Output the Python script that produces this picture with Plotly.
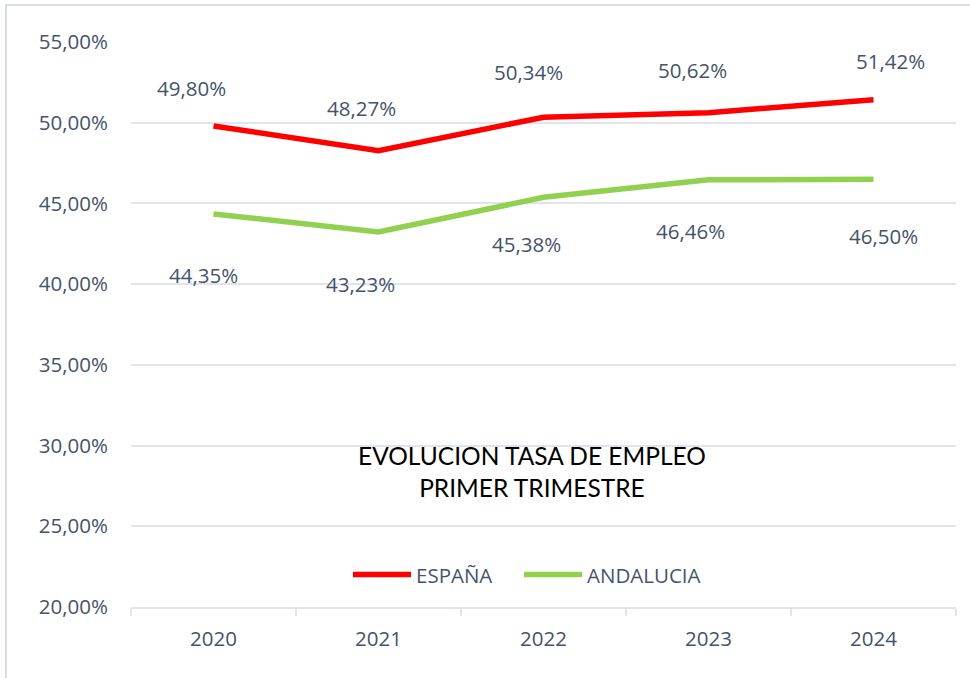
import plotly.graph_objects as go

years = ["2020", "2021", "2022", "2023", "2024"]
espana = [49.80, 48.27, 50.34, 50.62, 51.42]
andalucia = [44.35, 43.23, 45.38, 46.46, 46.50]
y_ticks = [20, 25, 30, 35, 40, 45, 50, 55]

# label offsets in pixels (layout only)
esp_dx = [-22, -17, -15, -16, 17]
esp_dy = [38, 43, 45, 43, 39]
and_dx = [-10, -18, -17, -18, 10]
and_dy = [-61, -52, -47, -51, -57]

RED = "#FF0000"
GREEN = "#92D050"
TXT = "#44546A"
GRID = "#E1E5EB"
FONT = "Open Sans"
FS = 20.5

def fmt(v):
    return f"{v:.2f}".replace(".", ",") + "%"

fig = go.Figure()
fig.add_trace(go.Scatter(x=years, y=espana, mode="lines", name="ESPAÑA",
                         line=dict(color=RED, width=5.5), legend="legend"))
fig.add_trace(go.Scatter(x=years, y=andalucia, mode="lines", name="ANDALUCIA",
                         line=dict(color=GREEN, width=5.5), legend="legend2"))

ann = []
for series, dxs, dys in ((espana, esp_dx, esp_dy), (andalucia, and_dx, and_dy)):
    for i, (v, dx, dy) in enumerate(zip(series, dxs, dys)):
        ann.append(dict(x=i, y=v, text=fmt(v), showarrow=False, xanchor="center",
                        yanchor="middle", xshift=dx, yshift=dy,
                        font=dict(family=FONT, size=FS, color=TXT)))
ann.append(dict(xref="paper", yref="paper", x=0.486, y=0.24,
                text="EVOLUCION TASA DE EMPLEO<br>PRIMER TRIMESTRE",
                showarrow=False, xanchor="center", yanchor="middle",
                font=dict(family="Lato", size=24.5, color="#000000")))

leg_common = dict(orientation="h", y=0.057, xanchor="left", yanchor="middle",
                  font=dict(family=FONT, size=FS, color=TXT), itemwidth=58,
                  bgcolor="rgba(0,0,0,0)")

fig.update_layout(
    width=970, height=678,
    margin=dict(l=131, r=14, t=42, b=71),
    paper_bgcolor="white", plot_bgcolor="white",
    font=dict(family=FONT, size=FS, color=TXT),
    annotations=ann,
    showlegend=True,
    legend=dict(x=(356 - 131 - 8) / 825, **leg_common),
    legend2=dict(x=(527 - 131 - 8) / 825, **leg_common),
    xaxis=dict(type="category", range=[-0.5, 4.5], showgrid=False, showline=True,
               linecolor=GRID, linewidth=2, ticks="outside", tickson="boundaries",
               ticklen=7, tickcolor=GRID, tickwidth=2,
               tickfont=dict(size=FS, color=TXT), ticklabelstandoff=12),
    yaxis=dict(range=[20, 55], tickvals=y_ticks, ticktext=[fmt(v) for v in y_ticks],
               showgrid=True, gridcolor=GRID, gridwidth=2, zeroline=False,
               showline=False, tickfont=dict(size=FS, color=TXT), ticklabelstandoff=22),
    shapes=[dict(type="rect", xref="paper", yref="paper", x0=-0.1515, x1=1.1,
                 y0=-0.3, y1=1.0655, line=dict(color="#D9DEE5", width=2),
                 layer="below")],
)

fig.write_html("out.html", config={"displayModeBar": False},
               post_script="document.body.style.margin='0';")
